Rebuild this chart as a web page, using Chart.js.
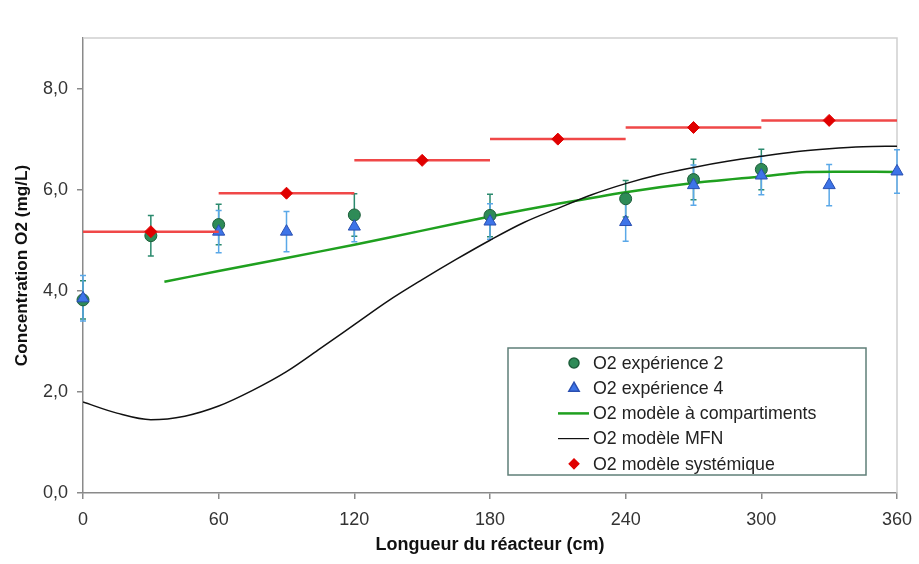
<!DOCTYPE html>
<html>
<head>
<meta charset="utf-8">
<script src="https://cdn.jsdelivr.net/npm/chart.js@4.4.0/dist/chart.umd.min.js"></script>
<style>
  body { margin: 0; background: #fff; }
  #wrap { width: 919px; height: 564px; }
</style>
</head>
<body>
<div id="wrap"><canvas id="o2Chart"></canvas></div>
<script>
// axes
const xTicks = [0, 60, 120, 180, 240, 300, 360];
const yTicks = [0, 2, 4, 6, 8];

// O2 experience 2 (circles) with error bars
const exp2X = [0, 30, 60, 120, 180, 240, 270, 300];
const exp2Y = [3.82, 5.09, 5.31, 5.50, 5.49, 5.82, 6.20, 6.40];
const exp2Err = [0.38, 0.40, 0.40, 0.42, 0.42, 0.36, 0.40, 0.40];

// O2 experience 4 (triangles) with error bars
const exp4X = [0, 60, 90, 120, 180, 240, 270, 300, 330, 360];
const exp4Y = [3.85, 5.17, 5.17, 5.27, 5.37, 5.36, 6.09, 6.28, 6.09, 6.36];
const exp4Err = [0.45, 0.42, 0.40, 0.30, 0.35, 0.38, 0.40, 0.38, 0.41, 0.43];

// modele a compartiments
const compX = [36, 60, 90, 120, 150, 180, 210, 240, 270, 300, 320, 360];
const compY = [4.18, 4.39, 4.65, 4.91, 5.19, 5.47, 5.72, 5.95, 6.13, 6.26, 6.35, 6.35];

// modele MFN
const mfnX = [0, 15, 30, 45, 60, 75, 90, 105, 120, 135, 150, 165, 180, 195, 210, 225, 240, 255, 270, 285, 300, 315, 330, 345, 360];
const mfnY = [1.80, 1.58, 1.45, 1.52, 1.72, 2.03, 2.40, 2.86, 3.33, 3.80, 4.22, 4.62, 5.00, 5.35, 5.63, 5.90, 6.12, 6.30, 6.44, 6.56, 6.66, 6.75, 6.81, 6.85, 6.86];

// modele systemique: one value per 60 cm compartment
const sysX = [30, 90, 150, 210, 270, 330];
const sysY = [5.17, 5.93, 6.58, 7.00, 7.23, 7.37];
const sysHalf = 30;

const pts = (xs, ys) => xs.map((x, i) => ({ x, y: ys[i] }));

const sysSegments = [];
sysX.forEach((c, i) => {
  sysSegments.push({ x: c - sysHalf, y: sysY[i] });
  sysSegments.push({ x: c + sysHalf, y: sysY[i] });
  sysSegments.push({ x: c + sysHalf, y: null });
});

const errorSets = [
  { xs: exp2X, ys: exp2Y, err: exp2Err, color: "#2b8a6e" },
  { xs: exp4X, ys: exp4Y, err: exp4Err, color: "#5aa8e8" },
];

const errorBars = {
  id: "errorBars",
  beforeDatasetsDraw(chart) {
    const { ctx, scales: { x, y } } = chart;
    ctx.save();
    ctx.lineWidth = 1.5;
    errorSets.forEach((s) => {
      ctx.strokeStyle = s.color;
      s.xs.forEach((xv, i) => {
        const px = x.getPixelForValue(xv);
        const top = y.getPixelForValue(s.ys[i] + s.err[i]);
        const bot = y.getPixelForValue(s.ys[i] - s.err[i]);
        ctx.beginPath();
        ctx.moveTo(px, top); ctx.lineTo(px, bot);
        ctx.moveTo(px - 3, top); ctx.lineTo(px + 3, top);
        ctx.moveTo(px - 3, bot); ctx.lineTo(px + 3, bot);
        ctx.stroke();
      });
    });
    ctx.restore();
  },
};

const frame = {
  id: "frame",
  beforeDatasetsDraw(chart) {
    const { ctx, chartArea: a } = chart;
    ctx.save();
    ctx.strokeStyle = "#cfcfcf";
    ctx.lineWidth = 1.5;
    ctx.beginPath();
    ctx.moveTo(a.left, a.top);
    ctx.lineTo(a.right, a.top);
    ctx.lineTo(a.right, a.bottom);
    ctx.stroke();
    ctx.restore();
  },
};

const legendItems = [
  { text: "O2 expérience 2", type: "point", style: "circle", r: 5, fill: "#2e8b57", stroke: "#1d5e3a" },
  { text: "O2 expérience 4", type: "point", style: "triangle", r: 6, fill: "#3d74e8", stroke: "#2a4fb0" },
  { text: "O2 modèle à compartiments", type: "line", color: "#1fa01f", width: 2.5 },
  { text: "O2 modèle MFN", type: "line", color: "#111", width: 1.2 },
  { text: "O2 modèle systémique", type: "point", style: "rectRot", r: 5, fill: "#e00000", stroke: "#e00000" },
];

const boxLegend = {
  id: "boxLegend",
  afterDraw(chart) {
    const { ctx } = chart;
    const bx = 508, by = 348, bw = 358, bh = 127;
    ctx.save();
    ctx.fillStyle = "#fff";
    ctx.fillRect(bx, by, bw, bh);
    ctx.strokeStyle = "#5f7f78";
    ctx.lineWidth = 1.5;
    ctx.strokeRect(bx, by, bw, bh);
    ctx.font = "17.8px 'Liberation Sans', Arial, sans-serif";
    ctx.textBaseline = "middle";
    legendItems.forEach((it, i) => {
      const cy = by + 15 + i * 25.2;
      if (it.type === "line") {
        ctx.strokeStyle = it.color;
        ctx.lineWidth = it.width;
        ctx.beginPath();
        ctx.moveTo(558, cy);
        ctx.lineTo(589, cy);
        ctx.stroke();
      } else {
        ctx.fillStyle = it.fill;
        ctx.strokeStyle = it.stroke;
        Chart.helpers.drawPoint(ctx, { pointStyle: it.style, radius: it.r, borderWidth: 1 }, 574, cy);
      }
      ctx.fillStyle = "#222";
      ctx.fillText(it.text, 593, cy + 1);
    });
    ctx.restore();
  },
};

const fam = "'Liberation Sans', Arial, sans-serif";
const tickFont = { family: fam, size: 18 };

new Chart(document.getElementById("o2Chart"), {
  type: "scatter",
  data: {
    datasets: [
      {
        label: "O2 expérience 2",
        data: pts(exp2X, exp2Y),
        pointStyle: "circle",
        pointRadius: 6,
        backgroundColor: "#2e8b57",
        borderColor: "#1d5e3a",
        borderWidth: 1,
        clip: false,
        order: 3,
      },
      {
        label: "O2 expérience 4",
        data: pts(exp4X, exp4Y),
        pointStyle: "triangle",
        pointRadius: 7,
        backgroundColor: "#3d74e8",
        borderColor: "#2a4fb0",
        borderWidth: 1,
        clip: false,
        order: 2,
      },
      {
        label: "O2 modèle à compartiments",
        type: "line",
        data: pts(compX, compY),
        borderColor: "#1fa01f",
        borderWidth: 2.5,
        pointRadius: 0,
        tension: 0.2,
        order: 5,
      },
      {
        label: "O2 modèle MFN",
        type: "line",
        data: pts(mfnX, mfnY),
        borderColor: "#111",
        borderWidth: 1.5,
        pointRadius: 0,
        cubicInterpolationMode: "monotone",
        order: 4,
      },
      {
        label: "segments",
        type: "line",
        data: sysSegments,
        borderColor: "#f04848",
        borderWidth: 2.5,
        pointRadius: 0,
        spanGaps: false,
        order: 1,
      },
      {
        label: "O2 modèle systémique",
        data: pts(sysX, sysY),
        pointStyle: "rectRot",
        pointRadius: 6,
        backgroundColor: "#e00000",
        borderColor: "#e00000",
        borderWidth: 1,
        clip: false,
        order: 0,
      },
    ],
  },
  options: {
    responsive: true,
    maintainAspectRatio: false,
    animation: false,
    layout: { padding: { left: 0, top: 38, right: 22, bottom: 0 } },
    plugins: { legend: { display: false }, tooltip: { enabled: false } },
    scales: {
      x: {
        type: "linear",
        min: 0,
        max: 360,
        afterBuildTicks: (s) => { s.ticks = xTicks.map((v) => ({ value: v })); },
        afterFit: (s) => { s.height = 71; s.paddingLeft = 0; s.paddingRight = 0; },
        grid: { drawOnChartArea: false, tickLength: 6, color: "#8a8a8a", lineWidth: 1.5 },
        border: { color: "#8a8a8a", width: 1.5 },
        ticks: { font: tickFont, color: "#333", padding: 10, maxRotation: 0 },
        title: {
          display: true,
          text: "Longueur du réacteur (cm)",
          font: { family: fam, size: 18, weight: "bold" },
          color: "#111",
          padding: { bottom: 8 },
        },
      },
      y: {
        min: 0,
        max: 9,
        afterBuildTicks: (s) => { s.ticks = yTicks.map((v) => ({ value: v })); },
        afterFit: (s) => { s.width = 83; s.paddingTop = 0; s.paddingBottom = 0; },
        grid: { drawOnChartArea: false, tickLength: 6, color: "#8a8a8a", lineWidth: 1.5 },
        border: { color: "#8a8a8a", width: 1.5 },
        ticks: { font: tickFont, color: "#333", padding: 9, callback: (v) => v.toFixed(1).replace(".", ",") },
        title: {
          display: true,
          text: "Concentration O2 (mg/L)",
          font: { family: fam, size: 17.2, weight: "bold" },
          color: "#111",
          padding: { top: 12 },
        },
      },
    },
  },
  plugins: [frame, errorBars, boxLegend],
});
</script>
</body>
</html>
